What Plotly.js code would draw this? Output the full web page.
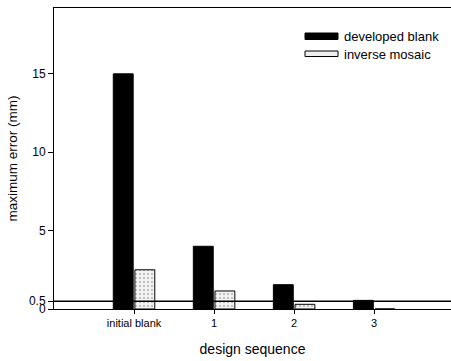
<!DOCTYPE html>
<html>
<head>
<meta charset="utf-8">
<script src="https://cdn.plot.ly/plotly-3.0.1.min.js"></script>
<style>html,body{margin:0;padding:0;background:#fff;}#chart{width:451px;height:361px;}</style>
</head>
<body>
<div id="chart"></div>
<script>
const categories = ["initial blank", "1", "2", "3"];
const seriesNames = ["developed blank", "inverse mosaic"];
const developedBlank = [15.0, 4.0, 1.55, 0.55];
const inverseMosaic = [2.5, 1.15, 0.3, 0.0];
const thresholdValue = 0.5;
const yTickVals = [0, 0.5, 5, 10, 15];
const yTickText = ["0", "0.5", "5", "10", "15"];

const xIdx = categories.map((c, i) => i);
const font = "Liberation Sans, Arial, sans-serif";

const traces = [
  {
    type: "bar", name: seriesNames[0], x: xIdx, y: developedBlank,
    marker: {color: "#000", line: {color: "#000", width: 1}},
    showlegend: false
  },
  {
    type: "bar", name: seriesNames[1], x: xIdx, y: inverseMosaic,
    marker: {color: "#eeeeee", line: {color: "#000", width: 1},
      pattern: {shape: ".", fgcolor: "#b0b0b0", bgcolor: "#f2f2f2", size: 4, solidity: 0.2}},
    showlegend: false
  },
  {
    type: "scatter", mode: "lines", x: [-1, 3.96], y: [thresholdValue, thresholdValue],
    line: {color: "#000", width: 1.5}, showlegend: false, hoverinfo: "skip"
  }
];

const px = v => (v - 54) / 397;
const py = v => (309 - v) / 301;

const layout = {
  width: 451, height: 361,
  margin: {l: 54, r: 0, t: 8, b: 52},
  paper_bgcolor: "#fff", plot_bgcolor: "#fff",
  barmode: "group", bargap: 0.46, bargroupgap: 0.08,
  font: {family: font, color: "#000", size: 12},
  xaxis: {
    range: [-1, 3.96], tickmode: "array", tickvals: xIdx, ticktext: categories,
    showline: true, linecolor: "#000", linewidth: 1, mirror: true,
    ticks: "outside", ticklen: 4, tickcolor: "#000", showgrid: false, zeroline: false,
    tickfont: {size: 11, family: font},
    title: {text: "design sequence", font: {size: 14, family: font}, standoff: 15}
  },
  yaxis: {
    range: [0, 19.2], tickmode: "array", tickvals: yTickVals, ticktext: yTickText,
    showline: true, linecolor: "#000", linewidth: 1, mirror: true,
    ticks: "outside", ticklen: 5, tickcolor: "#000", showgrid: false, zeroline: false,
    tickfont: {size: 12, family: font},
    title: {text: "maximum error (mm)", font: {size: 13.5, family: font}, standoff: 8}
  },
  shapes: [
    {type: "rect", xref: "paper", yref: "paper", x0: px(305), x1: px(338), y0: py(39.5), y1: py(33),
     fillcolor: "#000", line: {color: "#000", width: 1}},
    {type: "rect", xref: "paper", yref: "paper", x0: px(305), x1: px(338), y0: py(56.5), y1: py(51),
     fillcolor: "#eeeeee", line: {color: "#000", width: 1}}
  ],
  annotations: [
    {xref: "paper", yref: "paper", x: px(342), y: py(37), xanchor: "left", yanchor: "middle",
     text: seriesNames[0], showarrow: false, font: {size: 13, family: font}},
    {xref: "paper", yref: "paper", x: px(342), y: py(54), xanchor: "left", yanchor: "middle",
     text: seriesNames[1], showarrow: false, font: {size: 13, family: font}}
  ]
};

Plotly.newPlot("chart", traces, layout, {displayModeBar: false, staticPlot: true});
</script>
</body>
</html>
